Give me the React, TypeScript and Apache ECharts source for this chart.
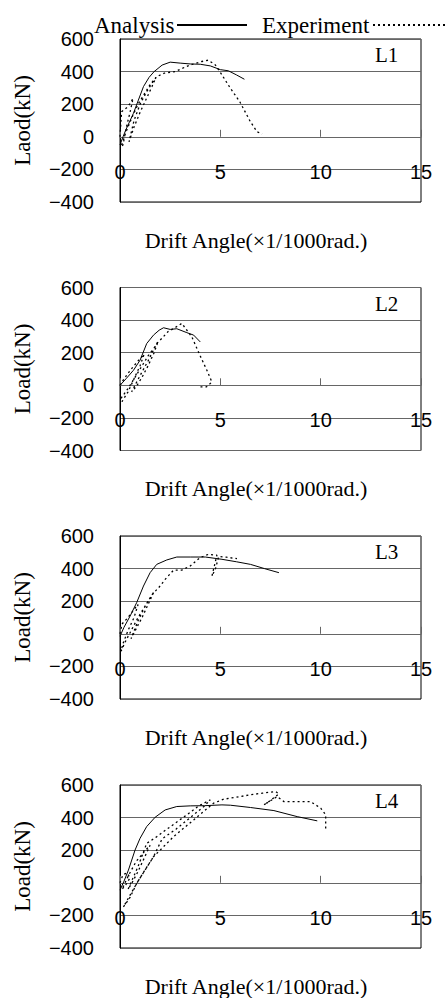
import React, { useEffect, useRef } from "react";
import * as echarts from "echarts";

const panelLabels = ["L1", "L2", "L3", "L4"];
const yAxisTitles = ["Laod(kN)", "Load(kN)", "Load(kN)", "Load(kN)"];
const xAxisTitle = "Drift Angle(×1/1000rad.)";
const seriesNames = ["Analysis", "Experiment"];
const xTicks = [0, 5, 10, 15];
const yTicks = [-400, -200, 0, 200, 400, 600];

type Pt = [number, number];

const analysisL1: Pt[] = [
  [0, -50], [0.15, 0], [0.3, 45], [0.67, 144], [0.9, 220], [1.17, 308], [1.45, 365],
  [1.7, 400], [2.1, 440], [2.5, 458], [3.0, 452], [3.5, 447], [4.0, 445], [4.5, 435],
  [5.0, 412], [5.4, 405], [5.8, 380], [6.2, 353],
];
const experimentL1: Pt[] = [
  [0, 0], [0.08, 154], [0.4, 185], [0.65, 236], [0.5, 150], [0.3, 50], [0.15, -50],
  [0.05, -60], [0.3, 30], [0.6, 120], [0.9, 200], [1.2, 260], [1.5, 320], [1.8, 365],
  [1.6, 310], [1.3, 230], [1.0, 150], [0.7, 60], [0.45, -30], [0.7, 100], [1.0, 200],
  [1.3, 270], [1.6, 330], [1.83, 369], [2.2, 390], [2.5, 396], [2.75, 400], [3.1, 420],
  [3.42, 437], [3.8, 452], [4.08, 462], [4.4, 470], [4.75, 441], [5.08, 380], [5.5, 298],
  [5.97, 215], [6.5, 92], [6.83, 31], [7.08, 17],
];

const analysisL2: Pt[] = [
  [0, 0], [0.3, 40], [0.67, 92], [1.0, 154], [1.33, 256], [1.67, 308], [1.95, 338],
  [2.17, 353], [2.5, 343], [2.83, 347], [3.33, 323], [3.67, 308], [4.0, 266],
];
const experimentL2: Pt[] = [
  [0, 0], [0.2, 40], [0.5, 90], [0.9, 150], [1.2, 190], [1.0, 120], [0.7, 40],
  [0.4, -40], [0.1, -100], [0.05, -80], [0.4, -20], [0.7, 40], [1.1, 120], [1.4, 180],
  [1.7, 230], [1.9, 270], [1.7, 200], [1.4, 120], [1.1, 50], [0.8, -10], [0.58, -40],
  [1.0, 60], [1.4, 150], [1.83, 256], [2.1, 290], [2.4, 330], [2.67, 348], [3.08, 380],
  [3.58, 297], [4.0, 180], [4.33, 92], [4.58, 20], [4.3, -10], [3.92, -10],
];

const analysisL3: Pt[] = [
  [0, -15], [0.2, 40], [0.5, 108], [0.83, 191], [1.17, 293], [1.5, 375], [1.83, 426],
  [2.33, 453], [2.83, 471], [3.5, 471], [4.25, 471], [5.08, 457], [5.8, 442], [6.5, 426],
  [7.2, 400], [7.92, 375],
];
const experimentL3: Pt[] = [
  [0, 0], [0.1, 60], [0.4, 100], [0.7, 150], [0.9, 180], [0.7, 100], [0.4, 20],
  [0.15, -60], [0.05, -107], [0.3, -40], [0.6, 30], [0.9, 100], [1.2, 160], [1.5, 220],
  [1.7, 260], [1.4, 180], [1.1, 100], [0.8, 30], [0.55, -30], [0.9, 80], [1.3, 180],
  [1.6, 240], [1.9, 280], [2.0, 293], [2.25, 334], [2.67, 391], [3.08, 391], [3.5, 416],
  [4.0, 468], [4.42, 488], [4.83, 482], [4.58, 354], [4.75, 396], [4.92, 474], [5.3, 470],
  [5.83, 461],
];

const analysisL4: Pt[] = [
  [0, -45], [0.2, 10], [0.42, 78], [0.75, 201], [1.0, 273], [1.33, 345], [1.75, 402],
  [2.25, 447], [2.83, 468], [3.5, 472], [4.2, 473], [5.08, 478], [5.5, 476], [6.5, 462],
  [7.67, 443], [8.83, 406], [9.83, 380],
];
const experimentL4: Pt[] = [
  [0, 0], [0.15, 50], [0.35, 60], [0.5, 30], [0.3, -10], [0.1, -40], [0.4, 40],
  [0.8, 130], [1.2, 190], [1.5, 230], [1.2, 150], [0.9, 70], [0.6, 0], [0.4, -40],
  [0.9, 100], [1.33, 242], [1.8, 280], [2.17, 314], [2.8, 370], [3.33, 417], [3.9, 470],
  [4.5, 509], [4.2, 470], [3.5, 400], [2.8, 330], [2.1, 270], [1.67, 160], [1.2, 70],
  [0.83, -4], [0.5, -90], [0.17, -148], [0.83, -4], [1.67, 160], [2.67, 283], [3.67, 386],
  [4.67, 489], [5.17, 513], [5.8, 525], [6.5, 540], [7.1, 550], [7.75, 560], [7.92, 546],
  [7.5, 505], [7.17, 478], [7.83, 529], [8.17, 498], [8.8, 498], [9.5, 498], [10.0, 458],
  [10.25, 417], [10.25, 314],
];

const analysisData = [analysisL1, analysisL2, analysisL3, analysisL4];
const experimentData = [experimentL1, experimentL2, experimentL3, experimentL4];

export default function App() {
  const ref = useRef<HTMLDivElement>(null);
  useEffect(() => {
    document.body.style.margin = "0";
    const chart = echarts.init(ref.current!, null, { renderer: "svg" });
    const tops = [39, 287.5, 536, 785];
    const plotH = 163;
    const sans = "Liberation Sans, Arial, sans-serif";
    const serif = "Liberation Serif, Times New Roman, serif";
    const yMin = yTicks[0];
    const yMax = yTicks[yTicks.length - 1];
    const zeroOffset = -plotH * (0 - yMin) / (yMax - yMin);

    const grid = tops.map((t) => ({
      left: 120, right: 25, top: t, height: plotH,
      show: true, borderColor: "#000", borderWidth: 1, backgroundColor: "transparent",
    }));

    const xAxis = tops.map((_, i) => ({
      type: "value", gridIndex: i, position: "bottom", offset: zeroOffset,
      min: xTicks[0], max: xTicks[xTicks.length - 1], interval: xTicks[1] - xTicks[0],
      axisLine: { show: true, onZero: false, lineStyle: { color: "#666", width: 1 } },
      axisTick: { show: true, inside: true, length: 7, lineStyle: { color: "#666" } },
      axisLabel: { margin: 25, fontSize: 20, fontFamily: sans, color: "#000" },
      splitLine: { show: false },
    }));

    const yAxis = tops.map((_, i) => ({
      type: "value", gridIndex: i, position: "left",
      min: yMin, max: yMax, interval: yTicks[1] - yTicks[0],
      axisLine: { show: true, onZero: false, lineStyle: { color: "#000", width: 1 } },
      axisTick: { show: false },
      axisLabel: {
        margin: 26, fontSize: 20, fontFamily: sans, color: "#000",
        formatter: (v: number) => String(v).replace("-", "\u2212"),
      },
      splitLine: { show: true, lineStyle: { color: "#666", width: 1 } },
    }));

    const series: any[] = [];
    tops.forEach((_, i) => {
      series.push({
        name: seriesNames[0], type: "line", xAxisIndex: i, yAxisIndex: i,
        data: analysisData[i], symbol: "none", silent: true,
        lineStyle: { color: "#000", width: 1 }, itemStyle: { color: "#000" },
      });
      series.push({
        name: seriesNames[1], type: "line", xAxisIndex: i, yAxisIndex: i,
        data: experimentData[i], symbol: "none", silent: true,
        lineStyle: { color: "#000", width: 1.3, type: [2, 3] }, itemStyle: { color: "#000" },
      });
    });

    const graphic: any[] = [];
    // legend (text followed by line sample)
    graphic.push({
      type: "text", x: 94, y: 25,
      style: { text: seriesNames[0], fontSize: 23, fontFamily: serif, fill: "#000", align: "left", verticalAlign: "middle" },
    });
    graphic.push({
      type: "line", shape: { x1: 177, y1: 25, x2: 247, y2: 25 },
      style: { stroke: "#000", lineWidth: 2 },
    });
    graphic.push({
      type: "text", x: 262, y: 25,
      style: { text: seriesNames[1], fontSize: 23, fontFamily: serif, fill: "#000", align: "left", verticalAlign: "middle" },
    });
    graphic.push({
      type: "line", shape: { x1: 373, y1: 25, x2: 446, y2: 25 },
      style: { stroke: "#000", lineWidth: 2, lineDash: [2, 3] },
    });

    tops.forEach((t, i) => {
      graphic.push({
        type: "text", x: 22, y: t + plotH / 2, rotation: Math.PI / 2,
        style: { text: yAxisTitles[i], fontSize: 23, fontFamily: serif, fill: "#000", align: "center", verticalAlign: "middle" },
      });
      graphic.push({
        type: "text", x: 256, y: t + 201,
        style: { text: xAxisTitle, fontSize: 22, fontFamily: serif, fill: "#000", align: "center", verticalAlign: "middle" },
      });
      graphic.push({
        type: "text", x: 375, y: t + 16,
        style: { text: panelLabels[i], fontSize: 21, fontFamily: serif, fill: "#000", align: "left", verticalAlign: "middle" },
      });
    });

    chart.setOption({
      animation: false,
      backgroundColor: "#fff",
      grid, xAxis, yAxis, series, graphic,
    });
    return () => chart.dispose();
  }, []);
  return <div ref={ref} style={{ width: 446, height: 998 }} />;
}
